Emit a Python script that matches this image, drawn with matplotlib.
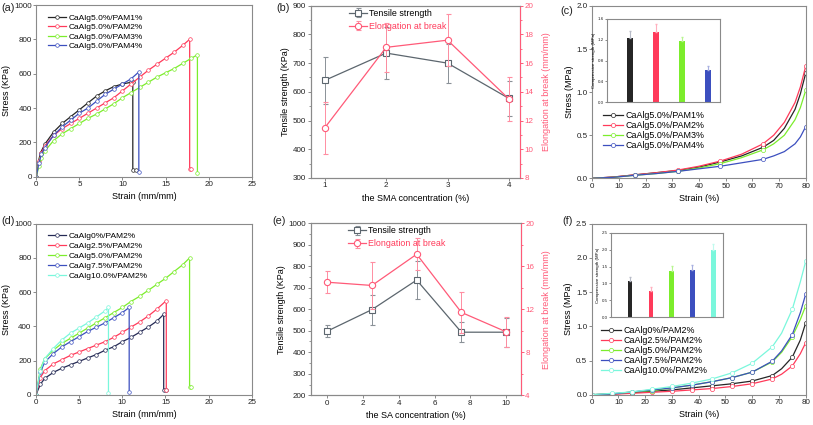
import numpy as np
import matplotlib.pyplot as plt
from matplotlib.ticker import AutoMinorLocator

plt.rcParams['font.family'] = ['Liberation Sans', 'DejaVu Sans']

# ---------- data ----------
# (a) stress-strain, CaAlg5.0% with various PAM
a_labels = ['CaAlg5.0%/PAM1%', 'CaAlg5.0%/PAM2%', 'CaAlg5.0%/PAM3%', 'CaAlg5.0%/PAM4%']
a_x1 = [0, 0.2, 0.5, 1, 2, 3, 4, 5, 6, 7, 8, 9, 10, 11, 11.2, 11.2, 11.6]
a_y1 = [0, 80, 140, 190, 260, 310, 350, 390, 430, 470, 500, 525, 540, 550, 550, 40, 40]
a_x2 = [0, 0.3, 0.6, 1, 2, 3, 4, 5, 6, 7, 8, 9, 10, 11, 12, 13, 14, 15, 16, 17, 17.8, 17.8, 18]
a_y2 = [0, 90, 140, 180, 240, 280, 310, 340, 370, 400, 430, 460, 500, 540, 580, 620, 655, 690, 725, 765, 800, 45, 45]
a_x3 = [0, 0.3, 0.6, 1, 2, 3, 4, 5, 6, 7, 8, 9, 10, 11, 12, 13, 14, 15, 16, 17, 18, 18.7, 18.7]
a_y3 = [0, 60, 110, 150, 210, 250, 280, 310, 340, 365, 395, 425, 460, 490, 520, 550, 580, 605, 630, 660, 690, 710, 20]
a_x4 = [0, 0.3, 0.6, 1, 2, 3, 4, 5, 6, 7, 8, 9, 10, 11, 11.9, 11.9]
a_y4 = [0, 80, 130, 170, 240, 290, 330, 370, 400, 440, 480, 510, 540, 570, 610, 25]

# (b) SMA concentration
b_conc = [1, 2, 3, 4]
b_tensile = [640, 735, 700, 577]
b_tensile_err = [83, 90, 68, 60]
b_elong = [11.5, 17.1, 17.6, 13.5]
b_elong_err = [1.8, 1.7, 1.8, 1.5]

# (c) compression curves
c_strain = [0, 8, 16, 24, 32, 40, 48, 56, 64, 68, 72, 76, 78, 80]
c_y1 = [0, 0.015, 0.04, 0.065, 0.09, 0.13, 0.19, 0.26, 0.36, 0.44, 0.58, 0.8, 0.98, 1.22]
c_y2 = [0, 0.015, 0.04, 0.065, 0.095, 0.14, 0.2, 0.28, 0.4, 0.5, 0.65, 0.88, 1.06, 1.3]
c_y3 = [0, 0.012, 0.035, 0.055, 0.08, 0.12, 0.17, 0.24, 0.33, 0.4, 0.5, 0.68, 0.82, 1.02]
c_y4 = [0, 0.012, 0.035, 0.055, 0.08, 0.11, 0.14, 0.18, 0.22, 0.26, 0.31, 0.4, 0.48, 0.6]
c_bar = [1.23, 1.35, 1.17, 0.62]
c_bar_err = [0.13, 0.16, 0.09, 0.08]

# (d) stress-strain, various CaAlg with PAM2%
d_labels = ['CaAlg0%/PAM2%', 'CaAlg2.5%/PAM2%', 'CaAlg5.0%/PAM2%', 'CaAlg7.5%/PAM2%', 'CaAlg10.0%/PAM2%']
d_x1 = [0, 0.5, 1, 2, 3, 4, 5, 6, 7, 8, 9, 10, 11, 12, 13, 14, 14.8, 14.8, 15.1]
d_y1 = [0, 60, 95, 130, 155, 175, 195, 215, 235, 260, 280, 310, 335, 365, 395, 430, 470, 30, 30]
d_x2 = [0, 0.5, 1, 2, 3, 4, 5, 6, 7, 8, 9, 10, 11, 12, 13, 14, 15.1, 15.1]
d_y2 = [0, 100, 140, 180, 205, 230, 250, 270, 290, 310, 335, 365, 395, 425, 460, 500, 550, 30]
d_x3 = [0, 0.5, 1, 2, 3, 4, 5, 6, 7, 8, 9, 10, 11, 12, 13, 14, 15, 16, 17, 17.8, 17.8, 18]
d_y3 = [0, 150, 210, 260, 300, 330, 360, 390, 420, 450, 480, 510, 545, 575, 610, 645, 680, 720, 760, 800, 45, 45]
d_x4 = [0, 0.5, 1, 2, 3, 4, 5, 6, 7, 8, 9, 10, 10.8, 10.8]
d_y4 = [0, 130, 190, 240, 280, 310, 340, 370, 395, 420, 450, 480, 510, 15]
d_x5 = [0, 0.5, 1, 2, 3, 4, 5, 6, 7, 8, 8.4, 8.4]
d_y5 = [0, 140, 210, 270, 320, 360, 390, 420, 455, 490, 510, 10]

# (e) SA concentration
e_conc = [0, 2.5, 5, 7.5, 10]
e_tensile = [498, 598, 735, 493, 493]
e_tensile_err = [27, 70, 90, 47, 68]
e_elong = [14.5, 14.2, 17.1, 11.7, 9.9]
e_elong_err = [1.0, 2.2, 1.5, 1.9, 1.4]

# (f) compression curves
f_strain = [0, 7.5, 15, 22.5, 30, 37.5, 45, 52.5, 60, 67.5, 71, 75, 78, 80]
f_y1 = [0, 0.01, 0.03, 0.05, 0.07, 0.1, 0.13, 0.16, 0.2, 0.28, 0.38, 0.55, 0.8, 1.05]
f_y2 = [0, 0.005, 0.02, 0.035, 0.05, 0.07, 0.09, 0.12, 0.16, 0.23, 0.3, 0.42, 0.6, 0.76]
f_y3 = [0, 0.01, 0.04, 0.06, 0.1, 0.14, 0.19, 0.25, 0.33, 0.48, 0.62, 0.85, 1.1, 1.3]
f_y4 = [0, 0.01, 0.04, 0.07, 0.1, 0.14, 0.19, 0.25, 0.33, 0.49, 0.64, 0.88, 1.2, 1.47]
f_y5 = [0, 0.02, 0.04, 0.08, 0.12, 0.17, 0.23, 0.32, 0.46, 0.7, 0.9, 1.25, 1.65, 1.95]
f_bar = [1.08, 0.79, 1.36, 1.40, 2.0]
f_bar_err = [0.12, 0.12, 0.15, 0.15, 0.18]

# ---------- style ----------
BLACK = '#262626'
RED = '#ff3a5a'
GREEN = '#7ced2c'
BLUE = '#3c4fbf'
CYAN = '#7af7dc'
NAVY = '#252a55'
GRAY = '#5c666e'
PINK = '#ff5a78'
SPINE = '#8a8a8a'
TICK_FS = 5.8
LAB_FS = 6.5
LEG_FS = 6

W, H = 813, 425
fig = plt.figure(figsize=(W / 100, H / 100), dpi=100)


def add_ax(l, t, r, b):
    return fig.add_axes([l / W, 1 - b / H, (r - l) / W, (b - t) / H])


def style(ax, fs=TICK_FS):
    for s in ax.spines.values():
        s.set_color(SPINE)
        s.set_linewidth(0.8)
    ax.tick_params(colors=SPINE, labelcolor='#222222', labelsize=fs, length=2.2,
                   width=0.7, pad=1)


def leg(ax, x, y, fs=LEG_FS, spacing=0.15):
    lg = ax.legend(loc='upper left', bbox_to_anchor=(x / W, 1 - y / H),
                   bbox_transform=fig.transFigure, frameon=False, fontsize=fs,
                   borderpad=0, borderaxespad=0, handlelength=2.2,
                   handletextpad=0.3, labelspacing=spacing)
    return lg


def curve(ax, x, y, c, label, ms=2.6, mevery=None):
    ax.plot(x, y, color=c, lw=0.9, marker='o', ms=ms, mfc='white', mec=c,
            mew=0.5, markevery=mevery, label=label)


def dual(ax, x, t, te, el, ee, xlim, ylim, y2lim, y2ticks, xlabel, leg_xy):
    style(ax)
    ax.errorbar(x, t, yerr=te, color=GRAY, lw=0.9, marker='s',
                ms=4, mfc='white', mec=GRAY, mew=0.8, ecolor='#8a9197',
                elinewidth=0.7, capsize=1.8, label='Tensile strength')
    ax.set_xlim(*xlim)
    ax.set_ylim(*ylim)
    ax.yaxis.set_minor_locator(AutoMinorLocator(2))
    ax.tick_params(which='minor', length=1.5, color=SPINE)
    ax.set_xlabel(xlabel, fontsize=LAB_FS, labelpad=3)
    ax.set_ylabel('Tensile strength (KPa)', fontsize=LAB_FS, labelpad=2)
    ax2 = ax.twinx()
    style(ax2)
    ax2.spines['right'].set_color(PINK)
    ax2.tick_params(axis='y', colors=PINK, labelcolor=PINK)
    ax2.errorbar(x, el, yerr=ee, color=PINK, lw=0.9, marker='o',
                 ms=4.5, mfc='white', mec=PINK, mew=0.8, ecolor='#ff8ea2',
                 elinewidth=0.7, capsize=1.8, label='Elongation at break')
    ax2.set_ylim(*y2lim)
    ax2.set_yticks(y2ticks)
    ax2.yaxis.set_minor_locator(AutoMinorLocator(2))
    ax2.tick_params(which='minor', length=1.5, color=PINK)
    ax2.set_ylabel('Elongation at break (mm/mm)', fontsize=LAB_FS, color=PINK, labelpad=6)
    h1, l1 = ax.get_legend_handles_labels()
    h2, l2 = ax2.get_legend_handles_labels()
    lg = ax2.legend(h1 + h2, l1 + l2, loc='upper left',
                    bbox_to_anchor=(leg_xy[0] / W, 1 - leg_xy[1] / H),
                    bbox_transform=fig.transFigure, frameon=False, fontsize=6.4,
                    borderpad=0, handlelength=2.0, handletextpad=0.2, labelspacing=0.45)
    lg.get_texts()[1].set_color(RED)


def inset(l, t, r, b, vals, errs, cols, ecols, width, xlim, ylim, yticks, fmt):
    ins = add_ax(l, t, r, b)
    style(ins, fs=3.2)
    for i, (v, e) in enumerate(zip(vals, errs)):
        ins.bar(i + 1, v, width=width, color=cols[i])
        ins.errorbar(i + 1, v, yerr=[[0], [e]], color=ecols[i], elinewidth=0.8, capsize=1.0)
    ins.set_xlim(*xlim)
    ins.set_ylim(*ylim)
    ins.set_xticks([])
    ins.set_yticks(yticks)
    ins.set_yticklabels([fmt % v for v in yticks])
    ins.tick_params(length=1.2, pad=1)
    ins.set_ylabel('Compressive strength (MPa)', fontsize=3.2, labelpad=1)


# ----- (a) -----
ax = add_ax(36.3, 5, 251.7, 176.7)
style(ax)
curve(ax, a_x1, a_y1, BLACK, a_labels[0])
curve(ax, a_x2, a_y2, RED, a_labels[1])
curve(ax, a_x3, a_y3, GREEN, a_labels[2])
curve(ax, a_x4, a_y4, BLUE, a_labels[3])
ax.set_xlim(0, 25)
ax.set_ylim(0, 1000)
ax.set_xticks([0, 5, 10, 15, 20, 25])
ax.set_yticks([0, 200, 400, 600, 800, 1000])
ax.set_xlabel('Strain (mm/mm)', fontsize=LAB_FS, labelpad=3)
ax.set_ylabel('Stress (KPa)', fontsize=LAB_FS, labelpad=2)
leg(ax, 48, 14, spacing=0.2)

# ----- (b) -----
ax = add_ax(310.7, 5.7, 520, 178)
dual(ax, b_conc, b_tensile, b_tensile_err, b_elong, b_elong_err,
     (0.77, 4.18), (300, 900), (8, 20), list(range(8, 21, 2)),
     'the SMA concentration (%)', (345, 4.5))
ax.set_xticks([1, 2, 3, 4])

# ----- (c) -----
ax = add_ax(592.3, 6, 805.7, 178.3)
style(ax)
mk = [2, 4, 6, 8, 13]
curve(ax, c_strain, c_y1, BLACK, a_labels[0], ms=3, mevery=mk)
curve(ax, c_strain, c_y2, RED, a_labels[1], ms=3, mevery=mk)
curve(ax, c_strain, c_y3, GREEN, a_labels[2], ms=3, mevery=mk)
curve(ax, c_strain, c_y4, BLUE, a_labels[3], ms=3, mevery=mk)
ax.set_xlim(0, 80)
ax.set_ylim(0, 2.0)
ax.set_xticks(range(0, 81, 10))
ax.set_yticks([0, 0.5, 1.0, 1.5, 2.0])
ax.set_yticklabels(['0.0', '0.5', '1.0', '1.5', '2.0'])
ax.set_xlabel('Strain (%)', fontsize=LAB_FS, labelpad=3)
ax.set_ylabel('Stress (MPa)', fontsize=LAB_FS, labelpad=2)
leg(ax, 603, 111.5, fs=6.4, spacing=0.1)

inset(606.7, 19, 720.3, 102.3, c_bar, c_bar_err,
      [BLACK, RED, GREEN, BLUE], ['#b8bcc8', '#ffb0be', '#b8f590', '#a8b0e0'],
      0.23, (0.1, 4.48), (0, 1.6), [0, 0.4, 0.8, 1.2, 1.6], '%.1f')

# ----- (d) -----
ax = add_ax(36, 223.7, 251.7, 394.7)
style(ax)
curve(ax, d_x1, d_y1, NAVY, d_labels[0])
curve(ax, d_x2, d_y2, RED, d_labels[1])
curve(ax, d_x3, d_y3, GREEN, d_labels[2])
curve(ax, d_x4, d_y4, BLUE, d_labels[3])
curve(ax, d_x5, d_y5, CYAN, d_labels[4])
ax.set_xlim(0, 25)
ax.set_ylim(0, 1000)
ax.set_xticks([0, 5, 10, 15, 20, 25])
ax.set_yticks([0, 200, 400, 600, 800, 1000])
ax.set_xlabel('Strain (mm/mm)', fontsize=LAB_FS, labelpad=3)
ax.set_ylabel('Stress (KPa)', fontsize=LAB_FS, labelpad=2)
leg(ax, 48, 232, spacing=0.25)

# ----- (e) -----
ax = add_ax(310.7, 223, 520.7, 395.3)
dual(ax, e_conc, e_tensile, e_tensile_err, e_elong, e_elong_err,
     (-0.93, 10.82), (200, 1000), (4, 20), [4, 8, 12, 16, 20],
     'the SA concentration (%)', (344, 222))
ax.set_xticks([0, 2, 4, 6, 8, 10])

# ----- (f) -----
ax = add_ax(591.7, 223.7, 805.7, 394.7)
style(ax)
mk = [0, 1, 2, 3, 4, 5, 6, 7, 8, 9, 11, 13]
curve(ax, f_strain, f_y1, BLACK, d_labels[0], ms=3, mevery=mk)
curve(ax, f_strain, f_y2, RED, d_labels[1], ms=3, mevery=mk)
curve(ax, f_strain, f_y3, GREEN, d_labels[2], ms=3, mevery=mk)
curve(ax, f_strain, f_y4, BLUE, d_labels[3], ms=3, mevery=mk)
curve(ax, f_strain, f_y5, CYAN, d_labels[4], ms=3, mevery=mk)
ax.set_xlim(0, 80)
ax.set_ylim(0, 2.5)
ax.set_xticks(range(0, 81, 10))
ax.set_yticks([0, 0.5, 1.0, 1.5, 2.0, 2.5])
ax.set_yticklabels(['0.0', '0.5', '1.0', '1.5', '2.0', '2.5'])
ax.set_xlabel('Strain (%)', fontsize=LAB_FS, labelpad=3)
ax.set_ylabel('Stress (MPa)', fontsize=LAB_FS, labelpad=2)
leg(ax, 601, 326, fs=6.4, spacing=0.12)

inset(610.7, 232.7, 723.3, 317.3, f_bar, f_bar_err,
      [BLACK, RED, GREEN, BLUE, CYAN],
      ['#b8bcc8', '#ffb0be', '#b8f590', '#a8b0e0', '#c0fbee'],
      0.22, (0.07, 5.48), (0, 2.5), [0, 0.5, 1.0, 1.5, 2.0, 2.5], '%.1f')

# panel labels
for x, y, t in [(1, 3, '(a)'), (276, 3, '(b)'), (560, 6, '(c)'),
                (1, 216, '(d)'), (272, 216, '(e)'), (562, 216, '(f)')]:
    fig.text(x / W, 1 - y / H, t, fontsize=7.8, va='top', ha='left', color='#222222')

fig.savefig('out.png', dpi=100)
